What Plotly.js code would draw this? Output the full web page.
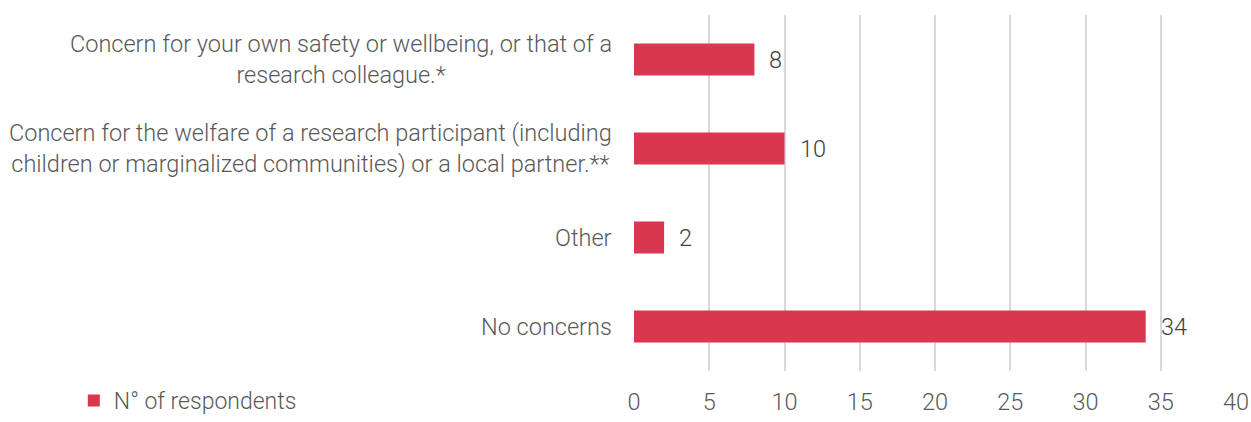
<!DOCTYPE html>
<html>
<head>
<meta charset="utf-8">
<script src="https://cdn.plot.ly/plotly-3.0.1.min.js"></script>
<style>html,body{margin:0;padding:0;background:#fff;}#chart{width:1251px;height:422px;}</style>
</head>
<body>
<div id="chart"></div>
<script>
const categories = [
  "Concern for your own safety or wellbeing, or that of a<br>research colleague.*",
  "Concern for the welfare of a research participant (including<br>children or marginalized communities) or a local partner.**",
  "Other",
  "No concerns"
];
const respondents = [8, 10, 2, 34];
const seriesName = "N° of respondents";
const xTicks = [0, 5, 10, 15, 20, 25, 30, 35, 40];

const FONT = "Roboto, 'Liberation Sans', Arial, sans-serif";
const GREY = "#595959";
const RED = "#D9364F";
const FS = 23.5;

const trace = {
  type: "bar",
  orientation: "h",
  name: seriesName,
  x: respondents,
  y: categories,
  marker: {color: RED},
  hoverinfo: "x+y",
  showlegend: true
};

const catAnn = categories.map(c => ({
  xref: "paper", yref: "y", x: 0, y: c,
  xanchor: "right", yanchor: "middle",
  xshift: -20, align: "center", showarrow: false,
  text: c,
  font: {family: FONT, size: FS, color: GREY, weight: 300}
}));
const valAnn = respondents.map((v, i) => ({
  xref: "x", yref: "y", x: v, y: categories[i],
  xanchor: "left", yanchor: "middle",
  xshift: 13, showarrow: false,
  text: String(v),
  font: {family: FONT, size: FS, color: "#404040", weight: 300}
}));

const layout = {
  width: 1251, height: 422,
  margin: {l: 634, r: 15, t: 15, b: 51, pad: 0},
  paper_bgcolor: "#fff", plot_bgcolor: "#fff",
  bargap: 0.64,
  font: {family: FONT, size: FS, color: GREY, weight: 300},
  xaxis: {
    range: [0, 40], tickvals: xTicks, ticktext: xTicks.map(String),
    showgrid: true, gridcolor: "#D9D9D9", gridwidth: 2,
    zeroline: false, showline: false, ticks: "",
    ticklabelstandoff: 14,
    tickfont: {family: FONT, size: FS, color: GREY, weight: 300},
    automargin: false,
    fixedrange: true
  },
  yaxis: {
    categoryorder: "array", categoryarray: categories.slice().reverse(),
    showticklabels: false, showgrid: false, zeroline: false, showline: false, ticks: "",
    automargin: false,
    fixedrange: true
  },
  showlegend: true,
  legend: {
    orientation: "h", xref: "container", yref: "container",
    x: 0.059, xanchor: "left", y: 0.0, yanchor: "bottom",
    tracegroupgap: 0,
    font: {family: FONT, size: 23, color: GREY, weight: 300},
    bgcolor: "rgba(0,0,0,0)"
  },
  annotations: catAnn.concat(valAnn)
};

Plotly.newPlot("chart", [trace], layout, {displayModeBar: false, staticPlot: true});
</script>
</body>
</html>
